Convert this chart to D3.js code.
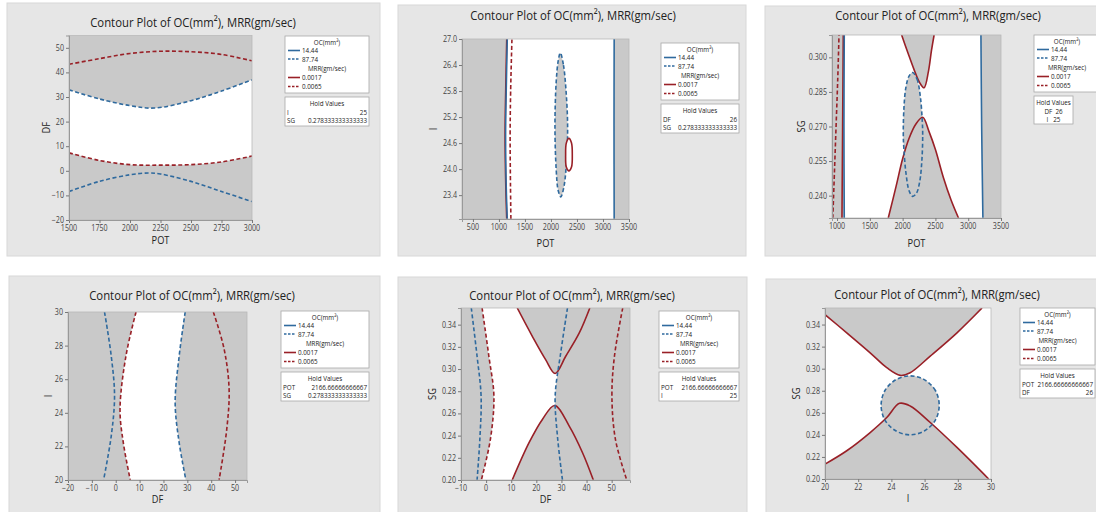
<!DOCTYPE html>
<html>
<head>
<meta charset="utf-8">
<script src="https://cdn.jsdelivr.net/npm/d3@7"></script>
<style>
  body { margin: 0; background: #fff; }
  svg { display: block; font-family: "Open Sans", "Noto Sans", sans-serif; }
</style>
</head>
<body>
<svg id="chart" width="1096" height="512"></svg>
<script>
// ---- legend / hold values text ----
const ocLevels = ["14.44", "87.74"];
const mrrLevels = ["0.0017", "0.0065"];
const hold1 = [["I", "25"], ["SG", "0.278333333333333"]];
const hold2 = [["DF", "26"], ["SG", "0.278333333333333"]];
const hold3 = ["DF  26", "I   25"];
const hold4 = [["POT", "2166.66666666667"], ["SG", "0.278333333333333"]];
const hold5 = [["POT", "2166.66666666667"], ["I", "25"]];
const hold6 = [["POT", "2166.66666666667"], ["DF", "26"]];

// ---- panel 1: POT vs DF ----
const p1XDomain = [1500, 3000], p1YDomain = [-20, 55];
const p1XTicks = [1500, 1750, 2000, 2250, 2500, 2750, 3000];
const p1YTicks = [-20, -10, 0, 10, 20, 30, 40, 50];
const p1RedUpper = [[1500, 43.3], [1750, 45.6], [2000, 47.7], [2250, 48.6], [2500, 48.4], [2750, 47.3], [3000, 44.7]];
const p1BlueUpper = [[1500, 32.9], [1750, 29.2], [2000, 26.5], [2200, 25.5], [2500, 28.5], [2750, 32.4], [3000, 37.0]];
const p1RedLower = [[1500, 7.3], [1750, 4.2], [2000, 2.5], [2250, 2.3], [2500, 2.5], [2750, 3.6], [3000, 6.0]];
const p1BlueLower = [[1500, -8.4], [1750, -4.3], [2000, -1.6], [2150, -0.9], [2250, -1.3], [2500, -4.3], [2750, -8.4], [3000, -12.5]];

// ---- panel 2: POT vs I ----
const p2XDomain = [290, 3500], p2YDomain = [22.85, 27.0];
const p2XTicks = [500, 1000, 1500, 2000, 2500, 3000, 3500];
const p2YTicks = [23.4, 24.0, 24.6, 25.2, 25.8, 26.4, 27.0];
const p2BlueLeft = [[1160, 22.85], [1140, 23.6], [1128, 24.8], [1140, 25.8], [1160, 27.0]];
const p2RedLeft = [[1150, 22.85], [1132, 23.6], [1118, 24.8], [1130, 25.8], [1150, 27.0]];
const p2RedDashLeft = [[1230, 22.85], [1222, 23.6], [1215, 24.8], [1225, 25.8], [1250, 27.0]];
const p2BlueRight = [[3215, 22.85], [3212, 25.0], [3215, 27.0]];
const p2BlueOval = [[2180, 26.68], [2240, 26.4], [2290, 25.8], [2320, 25.0], [2300, 24.2], [2250, 23.6], [2190, 23.36],
                    [2140, 23.5], [2100, 24.0], [2077, 25.0], [2100, 26.0], [2140, 26.5]];
const p2RedOval = [[2345, 24.71], [2395, 24.6], [2410, 24.33], [2395, 24.05], [2345, 23.96], [2295, 24.05], [2282, 24.33], [2295, 24.6]];

// ---- panel 3: POT vs SG ----
const p3XDomain = [923, 3500], p3YDomain = [0.2303, 0.3097];
const p3XTicks = [1000, 1500, 2000, 2500, 3000, 3500];
const p3YTicks = [0.240, 0.255, 0.270, 0.285, 0.300];
const p3RedDashLeft = [[935, 0.2303], [960, 0.250], [985, 0.270], [1010, 0.290], [1030, 0.3097]];
const p3RedLeft = [[1075, 0.2303], [1080, 0.250], [1085, 0.270], [1090, 0.290], [1095, 0.3097]];
const p3BlueLeft = [[1110, 0.2303], [1105, 0.270], [1110, 0.3097]];
const p3BlueRight = [[3224, 0.2303], [3205, 0.270], [3194, 0.3097]];
const p3RedUpper = [[1985, 0.3097], [2080, 0.3020], [2170, 0.2950], [2260, 0.2890], [2327, 0.2868], [2393, 0.2938], [2440, 0.3030], [2480, 0.3097]];
const p3RedLower = [[1781, 0.2303], [1900, 0.2440], [2000, 0.2560], [2100, 0.2650], [2200, 0.2710], [2306, 0.2740],
                    [2400, 0.2680], [2500, 0.2600], [2620, 0.2480], [2740, 0.2380], [2852, 0.2303]];
const p3BlueOval = [[2153, 0.2934], [2220, 0.2905], [2270, 0.2830], [2300, 0.2720], [2306, 0.2664], [2295, 0.2560],
                    [2260, 0.2460], [2210, 0.2410], [2153, 0.2397], [2100, 0.2420], [2050, 0.2500], [2020, 0.2600],
                    [2010, 0.2664], [2020, 0.2780], [2050, 0.2870], [2100, 0.2920]];

// ---- panel 4: DF vs I ----
const p4XDomain = [-20, 55], p4YDomain = [20, 30];
const p4XTicks = [-20, -10, 0, 10, 20, 30, 40, 50];
const p4YTicks = [20, 22, 24, 26, 28, 30];
const p4BlueLeft = [[-4.7, 30], [-1.9, 27.4], [-0.5, 25.0], [-1.9, 22.6], [-5.1, 20]];
const p4RedLeft = [[8.5, 30], [4.3, 27.4], [1.8, 24.2], [3.2, 22.2], [6.1, 20]];
const p4BlueRight = [[29.1, 30], [26.6, 27.4], [24.9, 24.6], [26.6, 22.2], [29.4, 20]];
const p4RedRight = [[40.9, 30], [45.4, 27.8], [47.5, 25.4], [46.5, 23.0], [43.3, 20]];

// ---- panel 5: DF vs SG ----
const p5XDomain = [-10, 57.3], p5YDomain = [0.20, 0.355];
const p5XTicks = [-10, 0, 10, 20, 30, 40, 50];
const p5YTicks = [0.20, 0.22, 0.24, 0.26, 0.28, 0.30, 0.32, 0.34];
const p5BlueLeft = [[-5.9, 0.355], [-3.6, 0.3115], [-2.0, 0.2756], [-2.5, 0.2366], [-3.6, 0.20]];
const p5RedDashLeft = [[-1.6, 0.355], [1.1, 0.3115], [3.1, 0.2756], [1.7, 0.2366], [-1.9, 0.20]];
const p5RedUpper = [[12.4, 0.355], [18.4, 0.3295], [23.7, 0.3085], [27.5, 0.2960], [31.7, 0.3115], [37.1, 0.3325], [41.3, 0.355]];
const p5RedLower = [[10.4, 0.20], [17.1, 0.2336], [22.4, 0.2546], [27.3, 0.2672], [33.1, 0.2486], [38.4, 0.2246], [42.7, 0.20]];
const p5BlueMid = [[32.4, 0.355], [29.7, 0.3145], [27.5, 0.2756], [28.4, 0.2396], [30.4, 0.20]];
const p5RedDashRight = [[54.4, 0.355], [51.1, 0.3115], [50.1, 0.2756], [51.5, 0.2366], [56.0, 0.20]];

// ---- panel 6: I vs SG ----
const p6XDomain = [20, 30], p6YDomain = [0.20, 0.355];
const p6XTicks = [20, 22, 24, 26, 28, 30];
const p6YTicks = [0.20, 0.22, 0.24, 0.26, 0.28, 0.30, 0.32, 0.34];
const p6RedUpper = [[20, 0.349], [21.31, 0.3325], [22.72, 0.3144], [23.72, 0.3009], [24.53, 0.2939], [25.13, 0.2963],
                    [26.34, 0.3114], [27.95, 0.3325], [29.46, 0.355]];
const p6RedLower = [[20, 0.2135], [21.31, 0.2256], [22.72, 0.2421], [23.72, 0.2557], [24.49, 0.2686], [25.13, 0.2662],
                    [26.34, 0.2512], [27.95, 0.2286], [29.86, 0.20]];
const p6BlueCircle = [[26.88, 0.2668], [26.65, 0.2802], [26.0, 0.2899], [25.13, 0.2935], [24.26, 0.2899], [23.61, 0.2802],
                      [23.38, 0.2668], [23.61, 0.2534], [24.26, 0.2437], [25.13, 0.2400], [26.0, 0.2437], [26.65, 0.2534]];

// ---- styling ----
const BLUE = "#2f6a9e", RED = "#992027", GRAY = "#c9c9c9", PANEL = "#e6e6e6";
const DASH = "4,2.5";
const SQ = 0.84; // source text is horizontally squeezed

const svg = d3.select("#chart");

function label(g, x, y, s, size, anchor, extra) {
    const t = g.append("text")
        .attr("transform", `translate(${x},${y}) scale(${SQ},1)`)
        .attr("font-size", size)
        .attr("text-anchor", anchor || "start")
        .attr("fill", "#222")
        .text(s);
    if (extra) extra(t);
    return t;
}

function drawPanel(cfg) {
    const g = svg.append("g");
    const [bx, by, bw, bh] = cfg.box;
    g.append("rect").attr("x", bx).attr("y", by).attr("width", bw).attr("height", bh)
        .attr("fill", PANEL).attr("stroke", "#d8d8d8");

    const [l, t, r, b] = cfg.plot;
    const x = d3.scaleLinear().domain(cfg.xDomain).range([l, r]);
    const y = d3.scaleLinear().domain(cfg.yDomain).range([b, t]);
    const line = d3.line().x(d => x(d[0])).y(d => y(d[1])).curve(d3.curveCatmullRom);
    const loop = d3.line().x(d => x(d[0])).y(d => y(d[1])).curve(d3.curveCatmullRomClosed);
    const pt = c => `L${x(c[0])},${y(c[1])}`;

    // helpers handed to the panel's own drawing
    const tools = {
        x, y, line, loop,
        between: (a, c) => line(a) + line(c.slice().reverse()).replace(/^M/, "L") + "Z",
        withCorners: (a, corners) => line(a) + corners.map(pt).join("") + "Z",
        xmin: cfg.xDomain[0], xmax: cfg.xDomain[1], ymin: cfg.yDomain[0], ymax: cfg.yDomain[1]
    };

    const clip = "clip" + cfg.id;
    g.append("clipPath").attr("id", clip).append("rect")
        .attr("x", l).attr("y", t).attr("width", r - l).attr("height", b - t);
    const area = g.append("g").attr("clip-path", `url(#${clip})`);
    area.append("rect").attr("x", l).attr("y", t).attr("width", r - l).attr("height", b - t)
        .attr("fill", cfg.bg);

    (cfg.fills(tools)).forEach(f => {
        area.append("path").attr("d", f.d).attr("fill", f.color);
    });
    (cfg.lines).forEach(s => {
        area.append("path")
            .attr("d", s.closed ? loop(s.pts) : line(s.pts))
            .attr("fill", s.fill || "none")
            .attr("stroke", s.color)
            .attr("stroke-width", 1.6)
            .attr("stroke-dasharray", s.dash ? DASH : null);
    });

    g.append("rect").attr("x", l).attr("y", t).attr("width", r - l).attr("height", b - t)
        .attr("fill", "none").attr("stroke", "#b8b8b8").attr("stroke-width", 0.8);

    // axes
    const xAxis = g.append("g").attr("transform", `translate(0,${b})`)
        .call(d3.axisBottom(x).tickValues(cfg.xTicks).tickSize(3).tickFormat(() => ""));
    const yAxis = g.append("g").attr("transform", `translate(${l},0)`)
        .call(d3.axisLeft(y).tickValues(cfg.yTicks).tickSize(3).tickFormat(() => ""));
    [xAxis, yAxis].forEach(a => {
        a.selectAll("line").attr("stroke", "#777");
        a.select(".domain").attr("stroke", "#999");
    });
    cfg.xTicks.forEach(v => label(g, x(v), b + 11, cfg.xFmt(v), 8.5, "middle", t => t.attr("fill", "#444")));
    cfg.yTicks.forEach(v => label(g, l - 5, y(v) + 3, cfg.yFmt(v), 8.5, "end", t => t.attr("fill", "#444")));

    // titles
    label(g, cfg.titleX, cfg.titleY, "Contour Plot of OC(mm²), MRR(gm/sec)", 13.5, "middle");
    label(g, (l + r) / 2, cfg.xLabelY, cfg.xLabel, 11, "middle");
    g.append("text")
        .attr("transform", `translate(${cfg.yLabelX},${(t + b) / 2}) rotate(-90) scale(${SQ},1)`)
        .attr("font-size", 11).attr("text-anchor", "middle").attr("fill", "#222")
        .text(cfg.yLabel);

    drawLegend(g, cfg.legend);
}

function drawLegend(g, lg) {
    const { x: lx, y: ly, w } = lg;
    const box = g.append("g");
    box.append("rect").attr("x", lx).attr("y", ly).attr("width", w).attr("height", 57)
        .attr("fill", "#fff").attr("stroke", "#a9a9a9").attr("stroke-width", 0.8);
    const fs = 7.5;
    const cx = lx + w / 2;
    label(box, cx, ly + 9, "OC(mm²)", fs, "middle");
    const rows = [
        [ocLevels[0], BLUE, false, 17], [ocLevels[1], BLUE, true, 25.5],
        [mrrLevels[0], RED, false, 44], [mrrLevels[1], RED, true, 53]
    ];
    label(box, cx, ly + 35, "MRR(gm/sec)", fs, "middle");
    rows.forEach(([txt, col, dash, dy]) => {
        box.append("line").attr("x1", lx + 3).attr("x2", lx + 15)
            .attr("y1", ly + dy - 2.5).attr("y2", ly + dy - 2.5)
            .attr("stroke", col).attr("stroke-width", 1.6)
            .attr("stroke-dasharray", dash ? "2.5,1.5" : null);
        label(box, lx + 17, ly + dy, txt, fs, "start");
    });

    const hy = ly + 61;
    const hw = lg.hw || w;
    box.append("rect").attr("x", lx).attr("y", hy).attr("width", hw).attr("height", lg.hh || 29)
        .attr("fill", "#fff").attr("stroke", "#a9a9a9").attr("stroke-width", 0.8);
    label(box, lx + hw / 2, hy + 9, "Hold Values", fs, "middle");
    lg.hold.forEach((row, i) => {
        const yy = hy + 17.5 + i * 8;
        if (typeof row === "string") {
            label(box, lx + hw / 2, yy, row, fs, "middle", t => t.attr("xml:space", "preserve"));
        } else {
            label(box, lx + 2, yy, row[0], fs, "start");
            label(box, lx + hw - 2, yy, row[1], fs, "end");
        }
    });
}

const f0 = d3.format("d"), f1 = d3.format(".1f"), f2 = d3.format(".2f"), f3 = d3.format(".3f");

// panel 1
drawPanel({
    id: 1, box: [7, 3, 373, 253], plot: [69, 35.5, 252, 220],
    xDomain: p1XDomain, yDomain: p1YDomain, xTicks: p1XTicks, yTicks: p1YTicks, xFmt: f0, yFmt: f0,
    xLabel: "POT", yLabel: "DF", titleX: 193, titleY: 27, xLabelY: 244, yLabelX: 50,
    bg: GRAY,
    fills: T => [{ d: T.between(p1BlueUpper, p1RedLower), color: "#fff" }],
    lines: [
        { pts: p1RedUpper, color: RED, dash: true }, { pts: p1BlueUpper, color: BLUE, dash: true },
        { pts: p1RedLower, color: RED, dash: true }, { pts: p1BlueLower, color: BLUE, dash: true }
    ],
    legend: { x: 285, y: 36, w: 84, hold: hold1 }
});

// panel 2
drawPanel({
    id: 2, box: [398, 5, 348, 251], plot: [462, 39, 629, 219],
    xDomain: p2XDomain, yDomain: p2YDomain, xTicks: p2XTicks, yTicks: p2YTicks, xFmt: f0, yFmt: f1,
    xLabel: "POT", yLabel: "I", titleX: 573, titleY: 20, xLabelY: 247, yLabelX: 437,
    bg: "#fff",
    fills: T => [
        { d: T.withCorners(p2BlueLeft, [[T.xmin, T.ymax], [T.xmin, T.ymin]]), color: GRAY },
        { d: T.withCorners(p2BlueRight, [[T.xmax, T.ymax], [T.xmax, T.ymin]]), color: GRAY },
        { d: T.loop(p2BlueOval), color: GRAY }
    ],
    lines: [
        { pts: p2RedLeft, color: RED }, { pts: p2BlueLeft, color: BLUE }, { pts: p2RedDashLeft, color: RED, dash: true },
        { pts: p2BlueRight, color: BLUE },
        { pts: p2BlueOval, color: BLUE, dash: true, closed: true },
        { pts: p2RedOval, color: RED, closed: true, fill: "#fff" }
    ],
    legend: { x: 661, y: 43, w: 78, hold: hold2 }
});

// panel 3
drawPanel({
    id: 3, box: [765, 6, 340, 250], plot: [832, 35, 1001, 218],
    xDomain: p3XDomain, yDomain: p3YDomain, xTicks: p3XTicks, yTicks: p3YTicks, xFmt: f0, yFmt: f3,
    xLabel: "POT", yLabel: "SG", titleX: 938, titleY: 20, xLabelY: 247, yLabelX: 805,
    bg: "#fff",
    fills: T => [
        { d: T.withCorners(p3BlueLeft, [[T.xmin, T.ymax], [T.xmin, T.ymin]]), color: GRAY },
        { d: T.withCorners(p3BlueRight, [[T.xmax, T.ymax], [T.xmax, T.ymin]]), color: GRAY },
        { d: T.line(p3RedUpper) + "Z", color: GRAY },
        { d: T.line(p3RedLower) + "Z", color: GRAY },
        { d: T.loop(p3BlueOval), color: GRAY }
    ],
    lines: [
        { pts: p3RedDashLeft, color: RED, dash: true }, { pts: p3RedLeft, color: RED }, { pts: p3BlueLeft, color: BLUE },
        { pts: p3BlueRight, color: BLUE },
        { pts: p3RedUpper, color: RED }, { pts: p3RedLower, color: RED },
        { pts: p3BlueOval, color: BLUE, dash: true, closed: true }
    ],
    legend: { x: 1034, y: 35, w: 66, hw: 39, hh: 28, hold: hold3 }
});

// panel 4
drawPanel({
    id: 4, box: [9, 276, 371, 240], plot: [68, 312, 247, 480],
    xDomain: p4XDomain, yDomain: p4YDomain, xTicks: p4XTicks, yTicks: p4YTicks, xFmt: f0, yFmt: f0,
    xLabel: "DF", yLabel: "I", titleX: 192, titleY: 300, xLabelY: 503, yLabelX: 52,
    bg: GRAY,
    fills: T => [{ d: T.between(p4RedLeft, p4BlueRight), color: "#fff" }],
    lines: [
        { pts: p4BlueLeft, color: BLUE, dash: true }, { pts: p4RedLeft, color: RED, dash: true },
        { pts: p4BlueRight, color: BLUE, dash: true }, { pts: p4RedRight, color: RED, dash: true }
    ],
    legend: { x: 281, y: 311, w: 88, hold: hold4 }
});

// panel 5
drawPanel({
    id: 5, box: [398, 277, 349, 240], plot: [461, 308, 630, 480],
    xDomain: p5XDomain, yDomain: p5YDomain, xTicks: p5XTicks, yTicks: p5YTicks, xFmt: f0, yFmt: f2,
    xLabel: "DF", yLabel: "SG", titleX: 572, titleY: 300, xLabelY: 503, yLabelX: 436,
    bg: GRAY,
    fills: T => [
        { d: T.between(p5RedDashLeft, p5BlueMid), color: "#fff" },
        { d: T.line(p5RedUpper) + "Z", color: GRAY },
        { d: T.line(p5RedLower) + "Z", color: GRAY }
    ],
    lines: [
        { pts: p5BlueLeft, color: BLUE, dash: true }, { pts: p5RedDashLeft, color: RED, dash: true },
        { pts: p5RedUpper, color: RED }, { pts: p5RedLower, color: RED },
        { pts: p5BlueMid, color: BLUE, dash: true }, { pts: p5RedDashRight, color: RED, dash: true }
    ],
    legend: { x: 659, y: 311, w: 80, hold: hold5 }
});

// panel 6
drawPanel({
    id: 6, box: [766, 279, 340, 240], plot: [825, 308, 991, 479],
    xDomain: p6XDomain, yDomain: p6YDomain, xTicks: p6XTicks, yTicks: p6YTicks, xFmt: f0, yFmt: f2,
    xLabel: "I", yLabel: "SG", titleX: 937, titleY: 299, xLabelY: 502, yLabelX: 800,
    bg: "#fff",
    fills: T => [
        { d: T.withCorners(p6RedUpper, [[T.xmin, T.ymax]]), color: GRAY },
        { d: T.withCorners(p6RedLower, [[T.xmin, T.ymin]]), color: GRAY },
        { d: T.loop(p6BlueCircle), color: GRAY }
    ],
    lines: [
        { pts: p6RedUpper, color: RED }, { pts: p6RedLower, color: RED },
        { pts: p6BlueCircle, color: BLUE, dash: true, closed: true }
    ],
    legend: { x: 1020, y: 308, w: 75, hold: hold6 }
});
</script>
</body>
</html>
